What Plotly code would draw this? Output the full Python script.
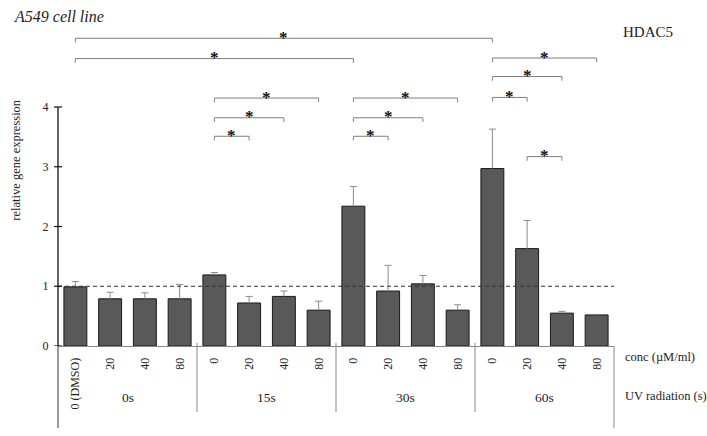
import plotly.graph_objects as go

# ---------------- data ----------------
conc_labels = ["0 (DMSO)", "20", "40", "80",
               "0", "20", "40", "80",
               "0", "20", "40", "80",
               "0", "20", "40", "80"]
uv_groups = ["0s", "15s", "30s", "60s"]
expression = [0.99, 0.79, 0.79, 0.79,
              1.19, 0.72, 0.83, 0.60,
              2.34, 0.92, 1.04, 0.60,
              2.97, 1.63, 0.55, 0.52]
error_up = [0.09, 0.11, 0.10, 0.24,
            0.04, 0.11, 0.09, 0.15,
            0.33, 0.43, 0.14, 0.09,
            0.66, 0.47, 0.03, 0.01]
# significance brackets: (first bar index, second bar index, height)
brackets = [(0, 12, 5.15), (0, 8, 4.81),
            (4, 5, 3.51), (4, 6, 3.82), (4, 7, 4.15),
            (8, 9, 3.51), (8, 10, 3.82), (8, 11, 4.15),
            (12, 13, 4.16), (12, 14, 4.51), (12, 15, 4.82),
            (13, 14, 3.17)]
y_ticks = [0, 1, 2, 3, 4]
reference_level = 1.0

x_pos = list(range(len(conc_labels)))
SERIF = "Liberation Serif"

# layout geometry
W, H = 707, 436
ML, MR, MT, MB = 58, 93, 20, 90
PH = H - MT - MB

fig = go.Figure()
fig.add_trace(go.Bar(
    x=x_pos, y=expression,
    marker=dict(color="#595959", line=dict(color="#1a1a1a", width=1)),
    error_y=dict(type="data", symmetric=False, array=error_up,
                 arrayminus=[0] * len(error_up), width=0,
                 color="#8c8c8c", thickness=1),
    width=0.66, showlegend=False, hoverinfo="skip"))
fig.add_trace(go.Scatter(
    x=x_pos, y=[v + e for v, e in zip(expression, error_up)],
    mode="markers",
    marker=dict(symbol="line-ew", size=5, line=dict(color="#8c8c8c", width=1)),
    showlegend=False, hoverinfo="skip"))

shapes = []
ann = []
# reference dashed line
shapes.append(dict(type="line", xref="paper", yref="y", x0=0, x1=1,
                   y0=reference_level, y1=reference_level,
                   line=dict(color="#333333", width=1.2, dash="4px,3px"), layer="above"))
# y-axis line (0..4) and extended down
shapes.append(dict(type="line", xref="paper", yref="y", x0=0, x1=0,
                   y0=0, y1=y_ticks[-1], line=dict(color="#111111", width=1.3)))
shapes.append(dict(type="line", xref="paper", yref="paper", x0=0, x1=0,
                   y0=0, y1=-82 / PH, line=dict(color="#333333", width=1)))
shapes.append(dict(type="line", xref="paper", yref="paper", x0=1, x1=1,
                   y0=0, y1=-82 / PH, line=dict(color="#888888", width=1)))
# y ticks crossing the axis
for t in y_ticks:
    shapes.append(dict(type="line", xref="paper", yref="y", xsizemode="pixel",
                       xanchor=0, x0=-4, x1=4, y0=t, y1=t,
                       line=dict(color="#111111", width=1.2)))
# group separators
for g in range(1, len(uv_groups)):
    xs = g * 4 - 0.5
    shapes.append(dict(type="line", xref="x", yref="paper", x0=xs, x1=xs,
                       y0=0.01, y1=-66 / PH, line=dict(color="#888888", width=1)))
# group labels
for g, name in enumerate(uv_groups):
    ann.append(dict(x=g * 4 + 1.5, xref="x", y=-51 / PH, yref="paper",
                    text=name, showarrow=False, xanchor="center", yanchor="middle",
                    font=dict(family=SERIF, size=13.5, color="#222")))
# significance brackets
tick = 0.07
for i, j, lvl in brackets:
    shapes.append(dict(type="path", xref="x", yref="y",
                       path=f"M {i},{lvl - tick} L {i},{lvl} L {j},{lvl} L {j},{lvl - tick}",
                       line=dict(color="#7f7f7f", width=1)))
    ann.append(dict(x=(i + j) / 2, xref="x", y=lvl, yref="y", text="<b>*</b>",
                    showarrow=False, xanchor="center", yanchor="middle", yshift=1,
                    font=dict(family=SERIF, size=17, color="#111")))

# y axis title
ann.append(dict(x=0, xref="paper", xshift=-41.5, y=3.11, yref="y",
                text="relative gene expression", textangle=-90, showarrow=False,
                xanchor="center", yanchor="middle",
                font=dict(family=SERIF, size=12.5, color="#222")))
# title, gene
ann.append(dict(x=(12 - ML) / (W - ML - MR), xref="paper", y=1 + 4 / PH, yref="paper",
                text="<i>A549 cell line</i>", showarrow=False, xanchor="left",
                yanchor="middle", font=dict(family=SERIF, size=16, color="#222")))
ann.append(dict(x=(621 - ML) / (W - ML - MR), xref="paper", y=(H - MB - 31.7) / PH - 0,
                yref="paper", text="HDAC5", showarrow=False, xanchor="left",
                yanchor="middle", font=dict(family=SERIF, size=15, color="#222")))
ann.append(dict(x=(622.7 - ML) / (W - ML - MR), xref="paper", y=-10.7 / PH, yref="paper",
                text="conc (µM/ml)", showarrow=False, xanchor="left",
                yanchor="middle", font=dict(family=SERIF, size=12.5, color="#222")))
ann.append(dict(x=(622.7 - ML) / (W - ML - MR), xref="paper", y=-49.7 / PH, yref="paper",
                text="UV radiation (s)", showarrow=False, xanchor="left",
                yanchor="middle", font=dict(family=SERIF, size=12.5, color="#222")))

ymax = PH / 59.75
fig.update_layout(
    width=W, height=H,
    margin=dict(l=ML, r=MR, t=MT, b=MB, pad=0),
    paper_bgcolor="white", plot_bgcolor="white",
    shapes=shapes, annotations=ann,
    bargap=0.34,
    xaxis=dict(range=[-0.5, len(conc_labels) - 0.5], tickmode="array",
               tickvals=x_pos, ticktext=conc_labels, tickangle=-90,
               showline=True, linecolor="#888888", linewidth=1,
               showgrid=False, zeroline=False, ticks="", ticklen=0,
               ticklabelstandoff=6,
               tickfont=dict(family=SERIF, size=12, color="#222")),
    yaxis=dict(range=[0, ymax], tickmode="array", tickvals=y_ticks,
               showline=False, showgrid=False, zeroline=False,
               ticks="outside", ticklen=6, tickcolor="rgba(0,0,0,0)",
               tickfont=dict(family=SERIF, size=12, color="#222")),
)
fig.write_html("out.html")
